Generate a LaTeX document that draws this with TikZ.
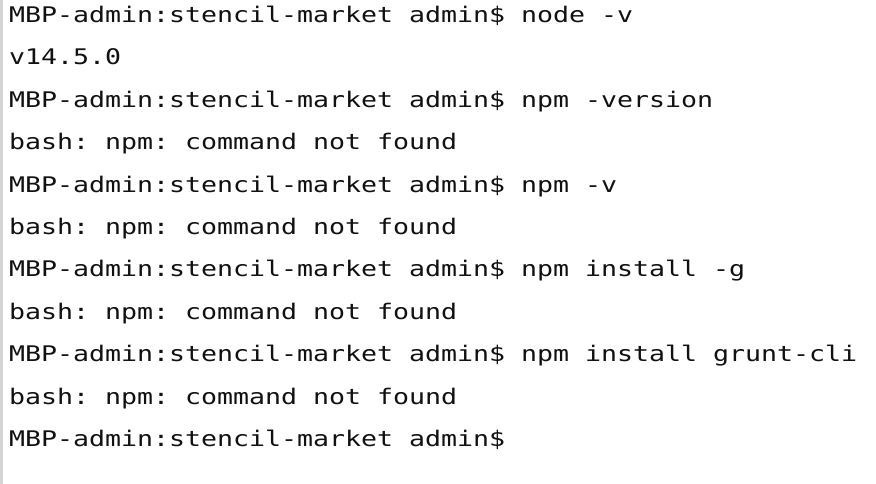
\documentclass[tikz,border=0pt]{standalone}
\usepackage{fontspec}
\newfontfamily\termfont{DejaVu Sans Mono}
\definecolor{termtext}{HTML}{111111}
\definecolor{sidebar}{HTML}{D4D4D4}
\frenchspacing
\tikzset{
  termline/.style={anchor=base west, inner sep=0pt, xscale=1.236,
    font=\termfont\frenchspacing\fontsize{21.5pt}{24pt}\selectfont, text=termtext}
}
\begin{document}
\begin{tikzpicture}[x=1pt,y=1pt]
\useasboundingbox (0,0) rectangle (876,-484);
\fill[white] (0,0) rectangle (876,-484);
\fill[sidebar] (0,0) rectangle (3,-484);
\node[termline] (l1)  at (9,-22.5)  {MBP-admin:stencil-market admin\$ node -v};
\node[termline] (l2)  at (9,-64.9)  {v14.5.0};
\node[termline] (l3)  at (9,-107.3) {MBP-admin:stencil-market admin\$ npm -version};
\node[termline] (l4)  at (9,-149.7) {bash: npm: command not found};
\node[termline] (l5)  at (9,-192.1) {MBP-admin:stencil-market admin\$ npm -v};
\node[termline] (l6)  at (9,-234.5) {bash: npm: command not found};
\node[termline] (l7)  at (9,-276.9) {MBP-admin:stencil-market admin\$ npm install -g};
\node[termline] (l8)  at (9,-319.3) {bash: npm: command not found};
\node[termline] (l9)  at (9,-361.7) {MBP-admin:stencil-market admin\$ npm install grunt-cli};
\node[termline] (l10) at (9,-404.1) {bash: npm: command not found};
\node[termline] (l11) at (9,-446.5) {MBP-admin:stencil-market admin\$};
\end{tikzpicture}
\end{document}
